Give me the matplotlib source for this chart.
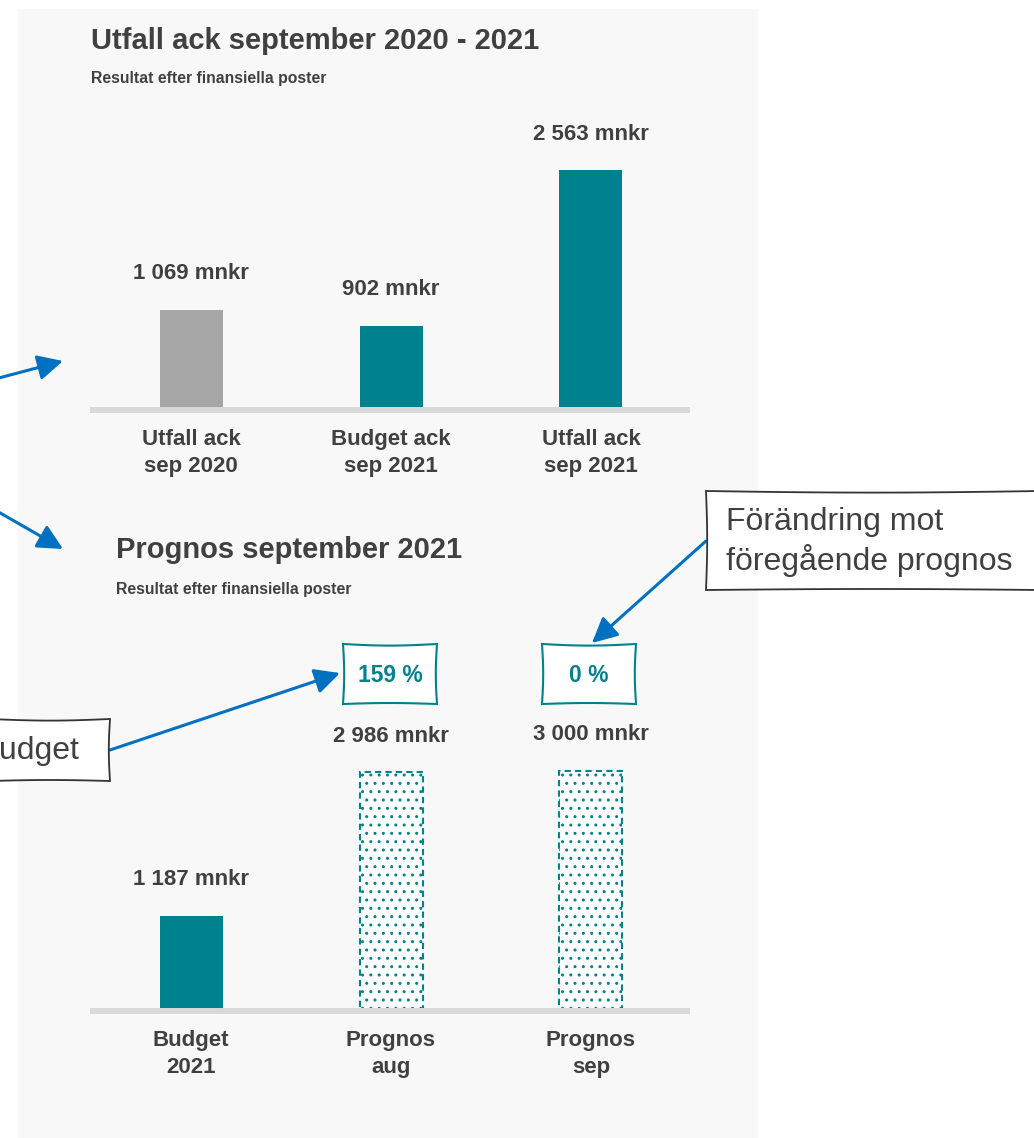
import numpy as np
import matplotlib
matplotlib.use("Agg")
import matplotlib.pyplot as plt
from matplotlib.patches import Rectangle, Polygon

plt.rcParams['font.family'] = ['Liberation Sans', 'DejaVu Sans']

# --- data ---
top_title = "Utfall ack september 2020 - 2021"
bottom_title = "Prognos september 2021"
subtitle = "Resultat efter finansiella poster"

top_cats = ["Utfall ack\nsep 2020", "Budget ack\nsep 2021", "Utfall ack\nsep 2021"]
top_vals = [1069, 902, 2563]
top_colors = ["#a6a6a6", "#00828e", "#00828e"]

bot_cats = ["Budget\n2021", "Prognos\naug", "Prognos\nsep"]
bot_vals = [1187, 2986, 3000]
bot_prognos = [False, True, True]

pct_labels = ["159 %", "0 %"]   # over bar 1 and 2 in bottom chart
note_right = "Förändring mot\nföregående prognos"
note_left = "Förändring mot budget"

TEAL = "#00828e"
TXT = "#404040"
BLUE = "#0070c0"
W, H = 1034, 1138


def fmt(v):
    return f"{v:,}".replace(",", " ") + " mnkr"


def rect(x0, y0, x1, y1):
    # pixel box -> figure fraction
    return [x0 / W, 1 - y1 / H, (x1 - x0) / W, (y1 - y0) / H]


def wobbly_box(ax, x0, y0, x1, y1, color, lw=1.3, z=5):
    # slightly bowed edges, like a hand-drawn shape
    n = 30
    t = np.linspace(0, 1, n)
    bow = 2.0 * np.sin(np.pi * t)
    top = np.c_[x0 + (x1 - x0) * t, y0 + bow * 0.8]
    right = np.c_[x1 - bow * 0.6, y0 + (y1 - y0) * t]
    bot = np.c_[x1 - (x1 - x0) * t, y1 - bow * 0.5]
    left = np.c_[x0 + bow * 0.6, y1 - (y1 - y0) * t]
    pts = np.vstack([top, right, bot, left])
    ax.add_patch(Polygon(pts, closed=True, facecolor="white", edgecolor=color,
                         lw=lw, zorder=z))


fig = plt.figure(figsize=(W / 100, H / 100), dpi=100)

# background panel
bg = fig.add_axes([0, 0, 1, 1], zorder=0)
bg.set_xlim(0, W)
bg.set_ylim(H, 0)
bg.axis("off")
bg.add_patch(Rectangle((18, 9), 740, H, facecolor="#f8f8f8", edgecolor="none"))

bg.text(91, 41, top_title, fontsize=21, fontweight="bold", color=TXT, va="center")
bg.text(91, 78, subtitle, fontsize=11.3, fontweight="bold", color=TXT, va="center")
bg.text(116, 550, bottom_title, fontsize=21, fontweight="bold", color=TXT, va="center")
bg.text(116, 589, subtitle, fontsize=11.3, fontweight="bold", color=TXT, va="center")


def bar_panel(box, cats, vals, ymax, prognos=None, colors=None):
    ax = fig.add_axes(rect(*box), zorder=2)
    ax.patch.set_visible(False)
    x = np.arange(len(cats))
    for i, v in enumerate(vals):
        if prognos is not None and prognos[i]:
            ax.bar(x[i], v, width=0.315, facecolor="white", edgecolor=TEAL,
                   hatch="..", linestyle=(0, (3, 2)), linewidth=1.5, zorder=2)
        else:
            c = colors[i] if colors else TEAL
            ax.bar(x[i], v, width=0.315, color=c, zorder=2)
        ax.annotate(fmt(v), (x[i], v), xytext=(0, 26), textcoords="offset points",
                    ha="center", va="center", fontsize=16, fontweight="bold",
                    color=TXT)
        ax.annotate(cats[i], (x[i], 0), xytext=(0, -31), textcoords="offset points",
                    ha="center", va="center", fontsize=16, fontweight="bold",
                    color=TXT, linespacing=1.35)
    ax.axhline(0, color="#d9d9d9", lw=4.3, zorder=3, clip_on=False,
               solid_capstyle="butt")
    ax.set_xlim(-0.505, 2.495)
    ax.set_ylim(0, ymax)
    ax.axis("off")
    return ax


ax_top = bar_panel((90, 110, 690, 410), top_cats, top_vals, 300 / 0.0935,
                   colors=top_colors)
ax_bot = bar_panel((90, 711, 690, 1011), bot_cats, bot_vals, 300 / 0.080,
                   prognos=bot_prognos)

# overlay: callouts and arrows
ov = fig.add_axes([0, 0, 1, 1], zorder=10)
ov.set_xlim(0, W)
ov.set_ylim(H, 0)
ov.axis("off")

for cx, lab in zip([390, 589], pct_labels):
    wobbly_box(ov, cx - 47, 644, cx + 47, 704, TEAL, lw=1.5)
    ov.text(cx, 675, lab, ha="center", va="center", fontsize=16.5,
            fontweight="bold", color=TEAL, zorder=6)

wobbly_box(ov, 706, 491, 1040, 590, "#333333", lw=1.3)
ov.text(726, 542, note_right, ha="left", va="center", fontsize=23,
        color=TXT, linespacing=1.25, zorder=6)

wobbly_box(ov, -10, 719, 110, 781, "#333333", lw=1.3)
ov.text(79, 751, note_left, ha="right", va="center", fontsize=23,
        color=TXT, zorder=6)

arrow = dict(arrowstyle="-|>,head_length=0.9,head_width=0.45", color=BLUE,
             lw=2.2, shrinkA=0, shrinkB=0, mutation_scale=17)
ov.annotate("", xy=(340, 673), xytext=(110, 750), arrowprops=arrow)
ov.annotate("", xy=(592, 643), xytext=(706, 541), arrowprops=arrow)
ov.annotate("", xy=(63, 361), xytext=(-5, 379), arrowprops=arrow)
ov.annotate("", xy=(63, 549), xytext=(-5, 510), arrowprops=arrow)

fig.savefig("out.png", dpi=100)
